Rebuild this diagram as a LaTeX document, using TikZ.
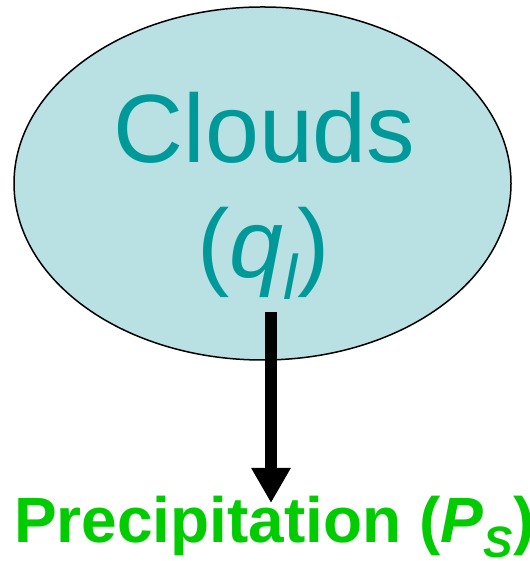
\documentclass[tikz,border=0pt]{standalone}
\usepackage{fontspec}
\setmainfont{Liberation Sans}
\usetikzlibrary{arrows.meta,shapes.geometric}
\definecolor{cloudfill}{RGB}{185,224,227}
\definecolor{cloudtext}{RGB}{0,153,153}
\definecolor{precipgreen}{RGB}{0,204,0}
\begin{document}
\begin{tikzpicture}[x=1pt,y=1pt,
  cloudshape/.style={ellipse, draw=black, line width=1.5pt, fill=cloudfill,
    minimum width=497pt, minimum height=353pt, inner sep=0pt},
  cloudlabel/.style={text=cloudtext, font=\fontsize{97}{114.6}\selectfont,
    inner sep=0pt, anchor=base},
  flux/.style={line width=12pt, -{Triangle[width=37pt,length=35pt]}},
  outlabel/.style={text=precipgreen, font=\fontsize{64}{64}\selectfont\bfseries,
    inner sep=0pt, anchor=base west}
]
\useasboundingbox (0,0) rectangle (529,561);

% cloud water reservoir
\node[cloudshape] (clouds) at (262.5,377.5) {};
\node[cloudlabel] (cloudsname) at (264.5,398) {Clouds};
\node[cloudlabel] (cloudsvar) at (263.5,283.4)
  {(\textit{q}\raisebox{-0.23em}{\fontsize{63}{63}\selectfont\itshape l})};

% precipitation flux out of the clouds
\coordinate (fluxstart) at (271,249);
\coordinate (fluxend) at (271,58);
\draw[flux] (fluxstart) -- (fluxend);

\node[outlabel] (precip) at (14,18)
  {Precipitation (\textit{P}\raisebox{-0.23em}{\fontsize{44}{44}\selectfont\itshape S})};
\end{tikzpicture}
\end{document}
